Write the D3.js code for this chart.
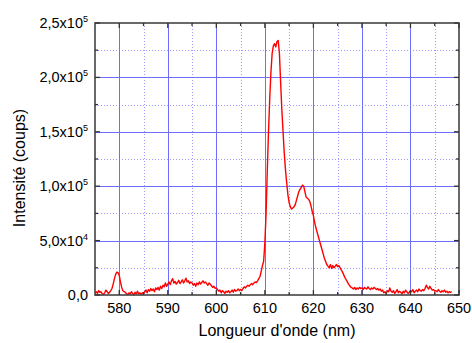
<!DOCTYPE html>
<html><head><meta charset="utf-8">
<script src="https://cdn.jsdelivr.net/npm/d3@7"></script>
<style>body{margin:0;background:#fff}svg{display:block}text{font-family:"Liberation Sans",Arial,sans-serif;fill:#000}</style>
</head><body><svg id="c" width="472" height="343"></svg>
<script>
// Spectrum: wavelength start/step (nm) and intensity in thousands of counts
const lambdaStart = 575, lambdaStep = 0.25;
const intensityK = [
 2,3,1.5,4,2.5,3,1,0.5,2,4.5,3,1.5,2.5,
 4,6,10,15,19,21,20.5,18,12,7,4,3,2.5,1,
 0.5,2,1,3,1.5,0,2.5,1,3.5,1,2,0.5,2,1.5,
 3,4.5,2,5,3.5,6,4,5.5,3,6.5,5,7,4.5,8,6,9,7.5,11,8,10,
 12,9.5,13,15,11,12.5,10,11.5,13.5,10.5,12,14,11,13,15.5,12,13,10.5,12,11,
 9,10.5,8,11,9.5,12,10,11.5,13,11,12,10.5,9,11,10,8.5,7,8,6,6.5,
 5,3.5,4.5,2,4,3,1.5,3.5,2.5,4,2,3,4.5,2.5,5,3.5,4,5.5,4,5,
 4,6,7.5,6.5,8,9,8,9.5,10.5,9.5,11,12,11.5,13,15,17,22,27,31,
 48,75,115,150,180,205,222,229,231,228,233,234,222,195,170,150,130,115,103,92,
 85,81,79,80,81,83,87,91,95,97,99,101,100,95,90,89,88,86,82,77,
 73,67,62,58,54,50,46,42,38,34,31,28,26.5,25,28,24.5,27,25,26.5,28,
 26,27,25,23,21,18.5,16,14,12,10,8.5,7,6.5,5.5,7,5,6.5,5.5,7,6,6.5,
 5,7,6,5.5,7.5,6,5,6.5,5.5,7,6,5,
 6,4.5,5.5,3.5,4.5,2,3,1.5,4,3,6.5,3.5,
 2.5,4,1.5,3,5,2,3.5,2.5,1,3.5,2,4.5,
 3,1.5,2.5,4,3,5,2,3.5,4.5,3,5.5,4,
 3.5,5,4,6,9,7,5.5,8,6,4.5,5,3.5,
 4,3,5,3.5,2.5,4,3,4.5,2.5,3.5,2,3,2.5,3
];
const xTicks = [580,590,600,610,620,630,640,650];
const xTickLabels = ["580","590","600","610","620","630","640","650"];
const xMinor = [585,595,605,615,625,635,645];
const yTicks = [0,50,100,150,200,250];
const yTickMant = ["0,0","5,0x10","1,0x10","1,5x10","2,0x10","2,5x10"];
const yTickExp = ["","4","5","5","5","5"];
const yMinor = [25,75,125,175,225];
const xTitle = "Longueur d'onde (nm)";
const yTitle = "Intensité (coups)";

const L=95, R=459, T=23, B=295;
const x = d3.scaleLinear().domain([575,650]).range([L,R]);
const y = d3.scaleLinear().domain([0,250]).range([B,T]);
const svg = d3.select("#c");

const data = intensityK.map((v,i)=>({l: lambdaStart + i*lambdaStep, v}));

// grid
const g = svg.append("g");
g.selectAll(".gxm").data(xMinor).join("line")
 .attr("x1",d=>Math.round(x(d))+0.5).attr("x2",d=>Math.round(x(d))+0.5).attr("y1",T).attr("y2",B)
 .attr("stroke","#9a9aff").attr("stroke-dasharray","1,2").attr("stroke-width",1);
g.selectAll(".gym").data(yMinor).join("line")
 .attr("y1",d=>Math.round(y(d))+0.5).attr("y2",d=>Math.round(y(d))+0.5).attr("x1",L).attr("x2",R)
 .attr("stroke","#9a9aff").attr("stroke-dasharray","1,2").attr("stroke-width",1);
g.selectAll(".gx").data(xTicks.filter(d=>d<650)).join("line")
 .attr("x1",d=>Math.round(x(d))+0.5).attr("x2",d=>Math.round(x(d))+0.5).attr("y1",T).attr("y2",B)
 .attr("stroke","#6f6fff").attr("stroke-width",1);
g.selectAll(".gy").data(yTicks.filter(d=>d>0&&d<250)).join("line")
 .attr("y1",d=>Math.round(y(d))+0.5).attr("y2",d=>Math.round(y(d))+0.5).attr("x1",L).attr("x2",R)
 .attr("stroke","#6f6fff").attr("stroke-width",1);

// data line
svg.append("path").datum(data)
 .attr("d", d3.line().x(d=>x(d.l)).y(d=>y(d.v)))
 .attr("fill","none").attr("stroke","#ff0000").attr("stroke-width",1.4).attr("stroke-linejoin","round");

// frame
svg.append("rect").attr("x",L).attr("y",T).attr("width",R-L).attr("height",B-T)
 .attr("fill","none").attr("stroke","#444").attr("stroke-width",1.6);

// ticks (inward)
const tk = svg.append("g").attr("stroke","#333").attr("stroke-width",1.3);
[...xTicks,...xMinor].forEach(d=>{
  const len = xTicks.includes(d)?5:3;
  tk.append("line").attr("x1",x(d)).attr("x2",x(d)).attr("y1",B).attr("y2",B-len);
  tk.append("line").attr("x1",x(d)).attr("x2",x(d)).attr("y1",T).attr("y2",T+len);
});
[...yTicks,...yMinor].forEach(d=>{
  const len = yTicks.includes(d)?5:3;
  tk.append("line").attr("y1",y(d)).attr("y2",y(d)).attr("x1",L).attr("x2",L+len);
  tk.append("line").attr("y1",y(d)).attr("y2",y(d)).attr("x1",R).attr("x2",R-len);
});

// x tick labels
svg.selectAll(".xl").data(xTicks).join("text")
 .attr("x",(d)=>x(d)).attr("y",313).attr("text-anchor","middle")
 .attr("font-size","14.5px").text((d,i)=>xTickLabels[i]);

// y tick labels
yTicks.forEach((d,i)=>{
  const t = svg.append("text").attr("x",88).attr("y",y(d)+5).attr("text-anchor","end").attr("font-size","14.5px");
  t.append("tspan").text(yTickMant[i]);
  if(yTickExp[i]) t.append("tspan").attr("dy",-6).attr("font-size","9px").text(yTickExp[i]);
});

// titles
svg.append("text").attr("x",277).attr("y",336).attr("text-anchor","middle").attr("font-size","16px").text(xTitle);
svg.append("text").attr("transform","translate(25,168) rotate(-90)").attr("text-anchor","middle").attr("font-size","16px").text(yTitle);
</script></body></html>
